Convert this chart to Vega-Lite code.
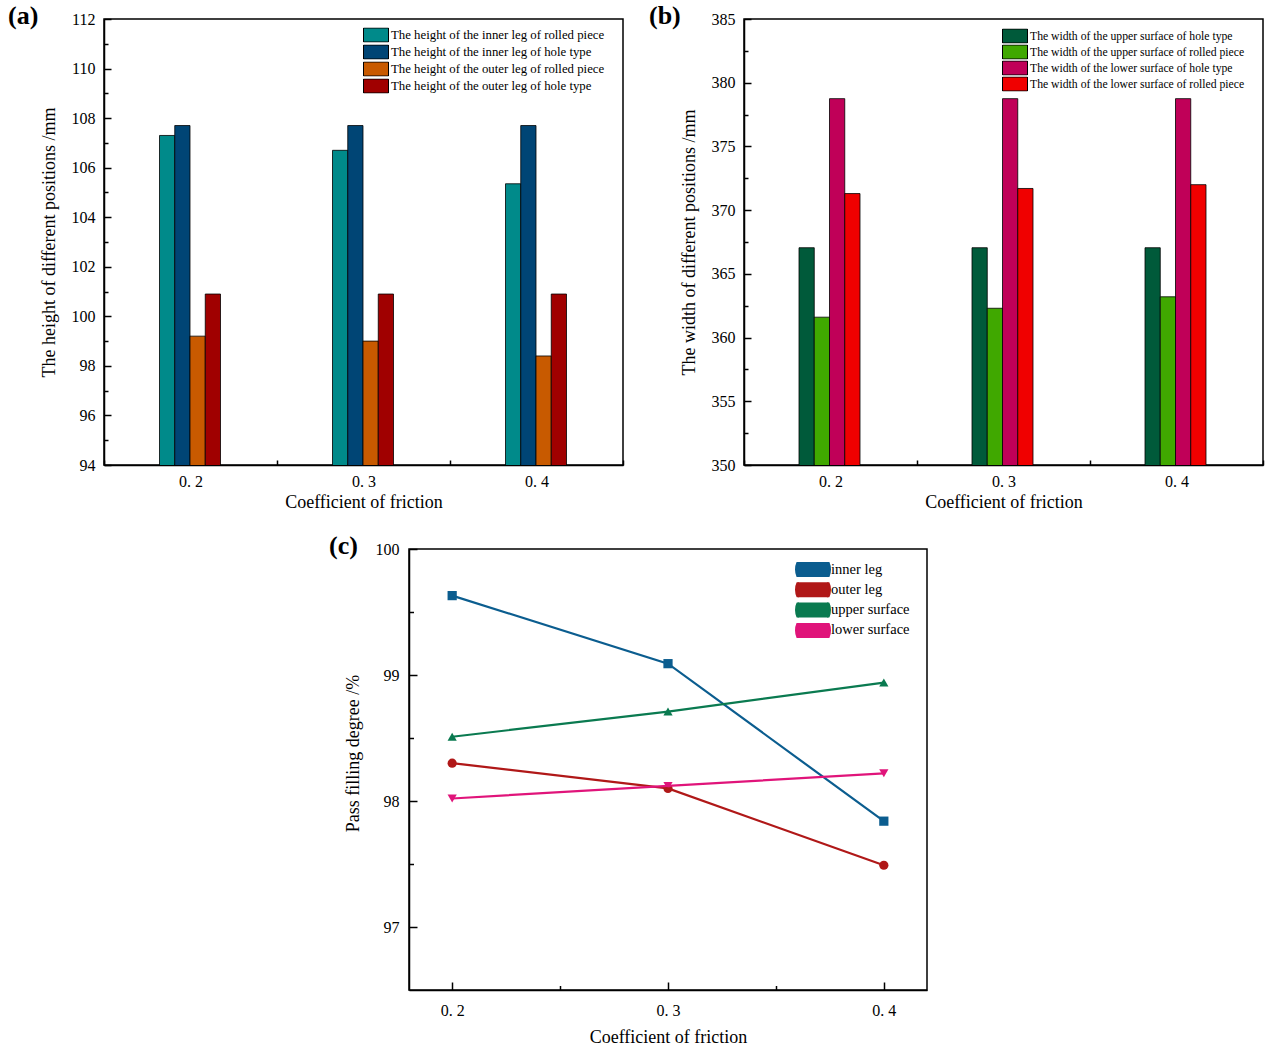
{
  "$schema": "https://vega.github.io/schema/vega-lite/v6.json",
  "padding": {"left": 7, "top": 2, "right": 5, "bottom": 5},
  "background": "white",
  "bounds": "flush",
  "spacing": 530,
  "resolve": {"scale": {"color": "independent", "xOffset": "independent", "shape": "independent", "x": "independent", "y": "independent"}, "legend": {"color": "independent", "shape": "independent"}},
  "config": {
    "font": "Liberation Serif",
    "view": {"stroke": "black", "strokeWidth": 1.5},
    "axis": {"domainColor": "black", "domainWidth": 1.5, "tickColor": "black", "tickWidth": 1.5, "labelColor": "black", "titleColor": "black", "labelFont": "Liberation Serif", "titleFont": "Liberation Serif", "titleFontWeight": "normal", "labelFontSize": 16, "titleFontSize": 18, "grid": false},
    "legend": {"labelFont": "Liberation Serif", "labelColor": "black", "padding": 0, "labelLimit": 400},
    "title": {"font": "Liberation Serif", "fontSize": 26, "fontWeight": "bold", "color": "black", "anchor": "start", "frame": "group", "baseline": "bottom", "offset": 0}
  },
  "vconcat": [
    {
      "hconcat": [
        {
          "title": {"text": "(a)", "dx": -96, "dy": 22},
          "width": 519, "height": 446,
          "data": {"values": [
            {"coef": "0.2", "series": "The height of the inner leg of  rolled piece", "value": 107.3},
            {"coef": "0.2", "series": "The height of the inner leg of  hole type", "value": 107.7},
            {"coef": "0.2", "series": "The height of the outer leg of  rolled piece", "value": 99.2},
            {"coef": "0.2", "series": "The height of the outer leg of  hole type", "value": 100.9},
            {"coef": "0.3", "series": "The height of the inner leg of  rolled piece", "value": 106.7},
            {"coef": "0.3", "series": "The height of the inner leg of  hole type", "value": 107.7},
            {"coef": "0.3", "series": "The height of the outer leg of  rolled piece", "value": 99.0},
            {"coef": "0.3", "series": "The height of the outer leg of  hole type", "value": 100.9},
            {"coef": "0.4", "series": "The height of the inner leg of  rolled piece", "value": 105.35},
            {"coef": "0.4", "series": "The height of the inner leg of  hole type", "value": 107.7},
            {"coef": "0.4", "series": "The height of the outer leg of  rolled piece", "value": 98.4},
            {"coef": "0.4", "series": "The height of the outer leg of  hole type", "value": 100.9}
          ]},
          "mark": {"type": "bar", "stroke": "black", "strokeWidth": 0.8, "clip": true},
          "encoding": {
            "x": {"field": "coef", "type": "nominal", "scale": {"paddingInner": 0, "paddingOuter": 0},
                  "axis": {"title": "Coefficient of friction", "labelAngle": 0, "labelExpr": "replace(datum.label, '.', '. ')", "tickBand": "extent", "tickSize": -5, "labelPadding": 13, "titlePadding": 4}},
            "xOffset": {"field": "series", "type": "nominal", "sort": ["The height of the inner leg of  rolled piece", "The height of the inner leg of  hole type", "The height of the outer leg of  rolled piece", "The height of the outer leg of  hole type"], "scale": {"paddingInner": 0, "paddingOuter": 0, "range": [55.5, 116.5]}},
            "y": {"field": "value", "type": "quantitative", "scale": {"domain": [94, 112], "nice": false, "zero": false},
                  "axis": {"title": "The height of different positions /mm", "values": [94,95,96,97,98,99,100,101,102,103,104,105,106,107,108,109,110,111,112], "labelExpr": "datum.value % 2 === 0 ? datum.label : ''", "tickSize": {"condition": {"test": "datum.value % 2 === 0", "value": -7}, "value": -4}, "labelPadding": 16, "titlePadding": 13}},
            "color": {"field": "series", "type": "nominal",
                      "scale": {"domain": ["The height of the inner leg of  rolled piece", "The height of the inner leg of  hole type", "The height of the outer leg of  rolled piece", "The height of the outer leg of  hole type"], "range": ["#008a8a", "#004575", "#c85a00", "#a00000"]},
                      "legend": {"title": null, "orient": "none", "legendX": 259, "legendY": 8.5, "symbolType": "M-1,-0.56H1V0.56H-1Z", "symbolSize": 625, "clipHeight": 15, "symbolStrokeColor": "black", "symbolStrokeWidth": 1, "symbolOpacity": 1, "labelFontSize": 12.8, "labelOffset": 2, "rowPadding": 2}}
          }
        },
        {
          "title": {"text": "(b)", "dx": -95, "dy": 22},
          "width": 519, "height": 446,
          "data": {"values": [
            {"coef": "0.2", "series": "The width of the upper surface of  hole type", "value": 367.05},
            {"coef": "0.2", "series": "The width of the upper surface of  rolled piece", "value": 361.6},
            {"coef": "0.2", "series": "The width of the lower surface of  hole type", "value": 378.75},
            {"coef": "0.2", "series": "The width of the lower surface of  rolled piece", "value": 371.3},
            {"coef": "0.3", "series": "The width of the upper surface of  hole type", "value": 367.05},
            {"coef": "0.3", "series": "The width of the upper surface of  rolled piece", "value": 362.3},
            {"coef": "0.3", "series": "The width of the lower surface of  hole type", "value": 378.75},
            {"coef": "0.3", "series": "The width of the lower surface of  rolled piece", "value": 371.7},
            {"coef": "0.4", "series": "The width of the upper surface of  hole type", "value": 367.05},
            {"coef": "0.4", "series": "The width of the upper surface of  rolled piece", "value": 363.2},
            {"coef": "0.4", "series": "The width of the lower surface of  hole type", "value": 378.75},
            {"coef": "0.4", "series": "The width of the lower surface of  rolled piece", "value": 372.0}
          ]},
          "mark": {"type": "bar", "stroke": "black", "strokeWidth": 0.8, "clip": true},
          "encoding": {
            "x": {"field": "coef", "type": "nominal", "scale": {"paddingInner": 0, "paddingOuter": 0},
                  "axis": {"title": "Coefficient of friction", "labelAngle": 0, "labelExpr": "replace(datum.label, '.', '. ')", "tickBand": "extent", "tickSize": -5, "labelPadding": 13, "titlePadding": 4}},
            "xOffset": {"field": "series", "type": "nominal", "sort": ["The width of the upper surface of  hole type", "The width of the upper surface of  rolled piece", "The width of the lower surface of  hole type", "The width of the lower surface of  rolled piece"], "scale": {"paddingInner": 0, "paddingOuter": 0, "range": [55, 116]}},
            "y": {"field": "value", "type": "quantitative", "scale": {"domain": [350, 385], "nice": false, "zero": false},
                  "axis": {"title": "The width of different positions /mm", "values": [350,352.5,355,357.5,360,362.5,365,367.5,370,372.5,375,377.5,380,382.5,385], "labelExpr": "datum.value % 5 === 0 ? datum.label : ''", "tickSize": {"condition": {"test": "datum.value % 5 === 0", "value": -7}, "value": -4}, "labelPadding": 16, "titlePadding": 13}},
            "color": {"field": "series", "type": "nominal",
                      "scale": {"domain": ["The width of the upper surface of  hole type", "The width of the upper surface of  rolled piece", "The width of the lower surface of  hole type", "The width of the lower surface of  rolled piece"], "range": ["#005a3a", "#40a800", "#c00058", "#f00000"]},
                      "legend": {"title": null, "orient": "none", "legendX": 258, "legendY": 9.5, "symbolType": "M-1,-0.56H1V0.56H-1Z", "symbolSize": 625, "clipHeight": 15, "symbolStrokeColor": "black", "symbolStrokeWidth": 1, "symbolOpacity": 1, "labelFontSize": 11.7, "labelOffset": 2, "rowPadding": 1}}
          }
        }
      ],
      "bounds": "flush",
      "spacing": 121,
      "resolve": {"scale": {"color": "independent", "xOffset": "independent", "x": "independent", "y": "independent"}, "legend": {"color": "independent"}}
    },
    {
      "hconcat": [
        {
          "width": 305, "height": 441,
          "data": {"values": []},
          "mark": "point",
          "encoding": {},
          "view": {"stroke": null}
        },
        {
          "title": {"text": "(c)", "dx": -80, "dy": 22},
          "width": 518, "height": 441,
          "data": {"values": [
            {"coef": 0.2, "series": "inner leg", "value": 99.63},
            {"coef": 0.3, "series": "inner leg", "value": 99.09},
            {"coef": 0.4, "series": "inner leg", "value": 97.84},
            {"coef": 0.2, "series": "outer leg", "value": 98.30},
            {"coef": 0.3, "series": "outer leg", "value": 98.10},
            {"coef": 0.4, "series": "outer leg", "value": 97.49},
            {"coef": 0.2, "series": "upper surface", "value": 98.51},
            {"coef": 0.3, "series": "upper surface", "value": 98.71},
            {"coef": 0.4, "series": "upper surface", "value": 98.94},
            {"coef": 0.2, "series": "lower surface", "value": 98.02},
            {"coef": 0.3, "series": "lower surface", "value": 98.12},
            {"coef": 0.4, "series": "lower surface", "value": 98.22}
          ]},
          "encoding": {
            "x": {"field": "coef", "type": "quantitative", "scale": {"domain": [0.18, 0.42], "nice": false, "zero": false},
                  "axis": {"title": "Coefficient of friction", "values": [0.2, 0.25, 0.3, 0.35, 0.4], "labelExpr": "round(datum.value*100) % 10 === 0 ? replace(format(datum.value, '.1f'), '.', '. ') : ''", "tickSize": {"condition": {"test": "round(datum.value*100) % 10 === 0", "value": -8}, "value": -4.5}, "labelPadding": 20, "titlePadding": 10}},
            "y": {"field": "value", "type": "quantitative", "scale": {"domain": [96.5, 100], "nice": false, "zero": false},
                  "axis": {"title": "Pass filling degree /%", "titleY": 204, "values": [97, 97.5, 98, 98.5, 99, 99.5, 100], "labelExpr": "datum.value % 1 === 0 ? format(datum.value, '.0f') : ''", "tickSize": {"condition": {"test": "datum.value % 1 === 0", "value": -8}, "value": -4.5}, "labelPadding": 18, "titlePadding": 13}}
          },
          "layer": [
            {
              "mark": {"type": "point", "filled": true, "size": 85, "opacity": 1},
              "encoding": {
                "shape": {"field": "series", "type": "nominal", "legend": null,
                          "scale": {"domain": ["inner leg", "outer leg", "lower surface", "upper surface"], "range": ["square", "circle", "triangle-down", "triangle-up"]}},
                "color": {"field": "series", "type": "nominal",
                          "scale": {"domain": ["inner leg", "outer leg", "upper surface", "lower surface"], "range": ["#0b5d8f", "#b01818", "#0a7a50", "#e0147a"]},
                          "legend": {"title": null, "orient": "none", "legendX": 691, "legendY": 13, "symbolSize": 1156, "clipHeight": 15, "symbolStrokeWidth": 2, "labelFontSize": 14.5, "labelOffset": 0, "rowPadding": 4.3,
                                     "encode": {"symbols": {
                                       "shape": {"value": {"expr": "datum.value === 'inner leg' ? 'M-1,0H1M-0.23,-0.23H0.23V0.23H-0.23Z' : datum.value === 'outer leg' ? 'M-1,0H1M-0.26,0A0.26,0.26,0,1,1,0.26,0A0.26,0.26,0,1,1,-0.26,0Z' : datum.value === 'upper surface' ? 'M-1,0H1M0,-0.28L0.28,0.2L-0.28,0.2Z' : 'M-1,0H1M0,0.28L0.28,-0.2L-0.28,-0.2Z'"}},
                                       "stroke": {"value": {"expr": "datum.value === 'inner leg' ? '#0b5d8f' : datum.value === 'outer leg' ? '#b01818' : datum.value === 'upper surface' ? '#0a7a50' : '#e0147a'"}},
                                       "fill": {"value": {"expr": "datum.value === 'inner leg' ? '#0b5d8f' : datum.value === 'outer leg' ? '#b01818' : datum.value === 'upper surface' ? '#0a7a50' : '#e0147a'"}},
                                       "strokeWidth": {"value": 2},
                                       "opacity": {"value": 1}
                                     }}}}
              }
            },
            {
              "mark": {"type": "line", "strokeWidth": 2.2},
              "encoding": {
                "color": {"field": "series", "type": "nominal",
                          "scale": {"domain": ["inner leg", "outer leg", "upper surface", "lower surface"], "range": ["#0b5d8f", "#b01818", "#0a7a50", "#e0147a"]}}
              }
            }
          ]
        }
      ],
      "bounds": "flush",
      "spacing": 0
    }
  ]
}
